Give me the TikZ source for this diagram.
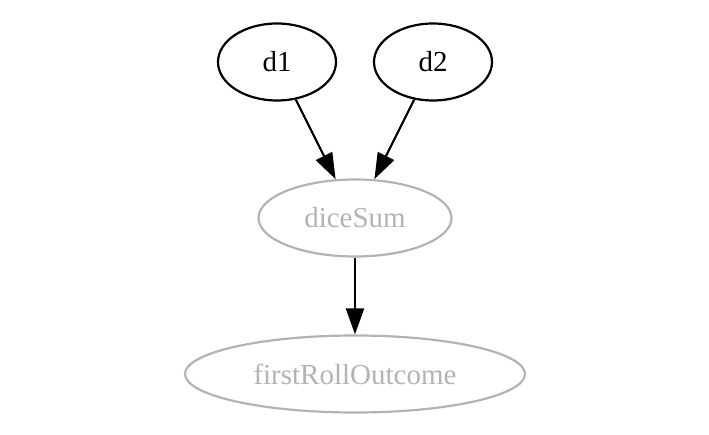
\documentclass[tikz,border=0pt]{standalone}
\usepackage{fontspec}
\setmainfont{Liberation Serif}
\usetikzlibrary{shapes.geometric,arrows.meta}
\definecolor{hidgray}{HTML}{B3B3B3}
\tikzset{
  obs/.style={ellipse,draw=black,line width=2.2pt,inner sep=0pt,text=black,font=\fontsize{29}{34}\selectfont},
  hid/.style={ellipse,draw=hidgray,line width=2.2pt,inner sep=0pt,text=hidgray,font=\fontsize{29}{34}\selectfont},
  edge/.style={draw=black,line width=2.2pt,-{Triangle[length=26pt,width=18pt]}}
}
\begin{document}
\begin{tikzpicture}[x=1pt,y=-1pt]
\useasboundingbox (0,0) rectangle (709,435);
\node[obs,minimum width=118pt,minimum height=77pt] (d1) at (277,62) {d1};
\node[obs,minimum width=118pt,minimum height=77pt] (d2) at (433,62) {d2};
\node[hid,minimum width=193pt,minimum height=77pt] (diceSum) at (355,218) {diceSum};
\node[hid,minimum width=340pt,minimum height=77pt] (fro) at (355,374) {firstRollOutcome};
\draw[edge] (d1) -- (diceSum);
\draw[edge] (d2) -- (diceSum);
\draw[edge] (diceSum) -- (fro);
\end{tikzpicture}
\end{document}
